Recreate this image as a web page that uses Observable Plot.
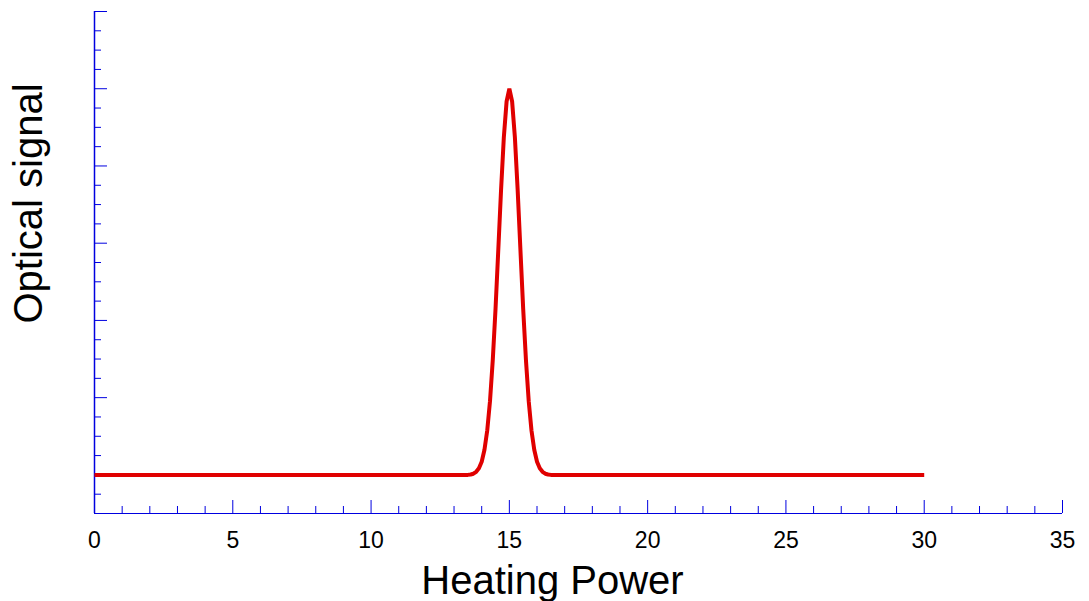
<!DOCTYPE html>
<html>
<head>
<meta charset="utf-8">
<script src="https://cdn.jsdelivr.net/npm/d3@7"></script>
<script src="https://cdn.jsdelivr.net/npm/@observablehq/plot@0.6"></script>
<style>
  html, body { margin: 0; padding: 0; background: white; }
  #chart { width: 1089px; height: 601px; }
</style>
</head>
<body>
<div id="chart"></div>
<script>
// Data
const heatingPower = [0, 13.5, 13.6, 13.7, 13.8, 13.9, 14.0, 14.1, 14.2, 14.3, 14.4, 14.5, 14.6, 14.7, 14.8, 14.9,
  15.0, 15.1, 15.2, 15.3, 15.4, 15.5, 15.6, 15.7, 15.8, 15.9, 16.0, 16.1, 16.2, 16.3, 16.4, 16.5, 30];
const opticalSignal = [0, 0, 0.001, 0.003, 0.008, 0.017, 0.034, 0.065, 0.115, 0.191, 0.297, 0.430, 0.583, 0.738, 0.874, 0.967,
  1.0, 0.967, 0.874, 0.738, 0.583, 0.430, 0.297, 0.191, 0.115, 0.065, 0.034, 0.017, 0.008, 0.003, 0.001, 0, 0];

// Tick values
const xMajorTicks = [0, 5, 10, 15, 20, 25, 30, 35];
const xMinorTicks = [1, 2, 3, 4, 6, 7, 8, 9, 11, 12, 13, 14, 16, 17, 18, 19, 21, 22, 23, 24, 26, 27, 28, 29, 31, 32, 33, 34];
const yMajorTicks = [0, 0.2, 0.4, 0.6, 0.8, 1.0, 1.2];
const yMinorTicks = [-0.05, 0.05, 0.1, 0.15, 0.25, 0.3, 0.35, 0.45, 0.5, 0.55, 0.65, 0.7, 0.75, 0.85, 0.9, 0.95, 1.05, 1.1, 1.15];

const xLabel = "Heating Power";
const yLabel = "Optical signal";

const data = heatingPower.map((x, i) => ({x, y: opticalSignal[i]}));

const blue = "#0000e0";
const red = "#e00000";

const W = 1089, H = 601;
const mL = 94, mR = 27, mT = 11, mB = 88;
const frameW = W - mL - mR;
const frameH = H - mT - mB;

const chart = Plot.plot({
  width: W,
  height: H,
  marginLeft: mL,
  marginRight: mR,
  marginTop: mT,
  marginBottom: mB,
  style: {fontFamily: "'Liberation Sans', Arial, Helvetica, sans-serif", background: "white", color: "black"},
  x: {domain: [0, 35], axis: null},
  y: {domain: [-0.1, 1.2], axis: null},
  marks: [
    Plot.tickX(xMinorTicks, {x: d => d, stroke: blue, insetTop: frameH - 7}),
    Plot.tickX(xMajorTicks, {x: d => d, stroke: blue, insetTop: frameH - 13}),
    Plot.tickY(yMinorTicks, {y: d => d, stroke: blue, insetRight: frameW - 7}),
    Plot.tickY(yMajorTicks, {y: d => d, stroke: blue, insetRight: frameW - 13}),
    Plot.ruleY([-0.1], {stroke: blue}),
    Plot.ruleX([0], {stroke: blue, strokeWidth: 1.5}),
    Plot.line(data, {x: "x", y: "y", stroke: red, strokeWidth: 4, strokeLinejoin: "miter", strokeLinecap: "butt"}),
    Plot.axisX(xMajorTicks, {tickSize: 0, tickPadding: 18, fontSize: 23, label: null, tickFormat: d => String(d), fill: "black"}),
    Plot.text([xLabel], {text: d => d, frameAnchor: "bottom", dy: 68, dx: -26, fontSize: 40, lineAnchor: "middle", textAnchor: "middle", fill: "black"}),
    Plot.text([yLabel], {text: d => d, frameAnchor: "left", rotate: -90, dx: -65, dy: -59, fontSize: 40, lineAnchor: "middle", textAnchor: "middle", fill: "black"})
  ]
});

document.getElementById("chart").appendChild(chart);
</script>
</body>
</html>
